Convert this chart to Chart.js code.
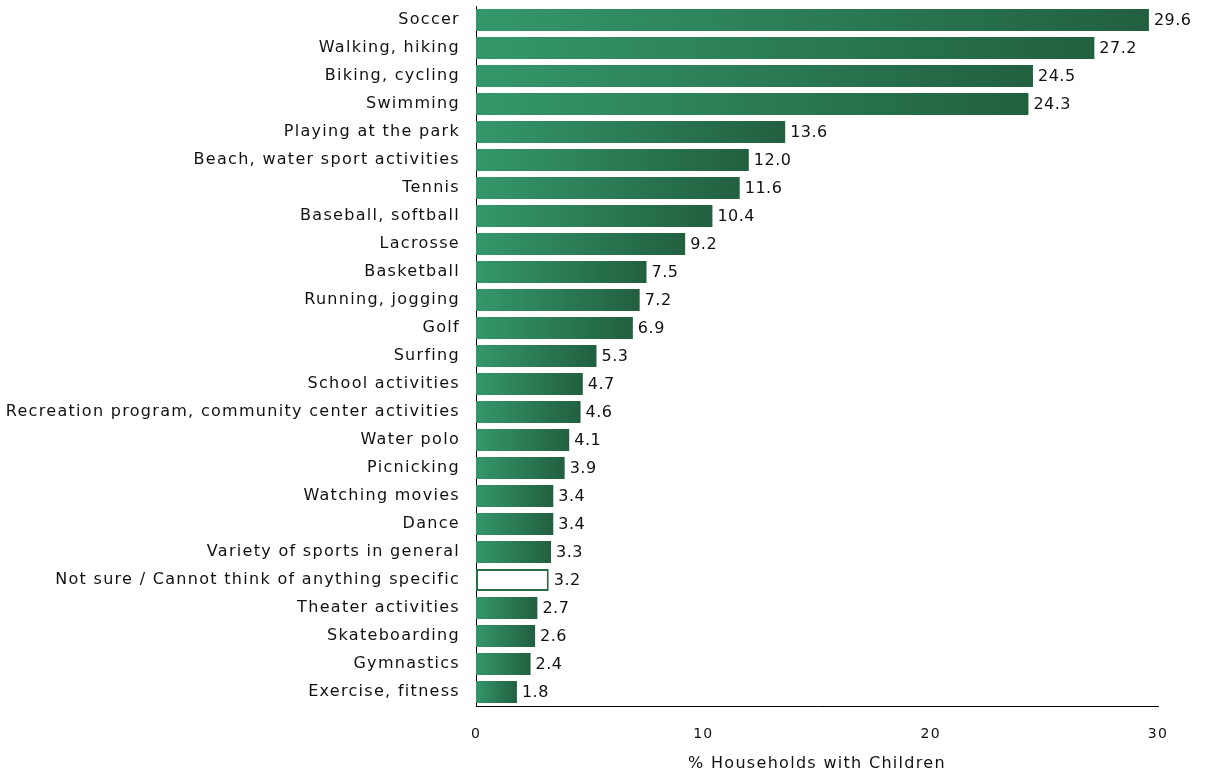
<!DOCTYPE html>
<html>
<head>
<meta charset="utf-8">
<title>% Households with Children</title>
<script src="https://cdn.jsdelivr.net/npm/chart.js@4.4.1/dist/chart.umd.min.js"></script>
<style>
  body { margin: 0; background: #fff; }
  #wrap { width: 1207px; height: 773px; }
</style>
</head>
<body>
<div id="wrap"><canvas id="myChart" width="1207" height="773"></canvas></div>
<script>
'use strict';

// ******** DATA **********

let activities = ['Soccer', 'Walking, hiking', 'Biking, cycling', 'Swimming', 'Playing at the park', 'Beach, water sport activities', 'Tennis', 'Baseball, softball', 'Lacrosse', 'Basketball', 'Running, jogging', 'Golf', 'Surfing', 'School activities', 'Recreation program, community center activities', 'Water polo', 'Picnicking', 'Watching movies', 'Dance', 'Variety of sports in general', 'Not sure / Cannot think of anything specific', 'Theater activities', 'Skateboarding', 'Gymnastics', 'Exercise, fitness'];
let percentHouseholds = [29.6, 27.2, 24.5, 24.3, 13.6, 12.0, 11.6, 10.4, 9.2, 7.5, 7.2, 6.9, 5.3, 4.7, 4.6, 4.1, 3.9, 3.4, 3.4, 3.3, 3.2, 2.7, 2.6, 2.4, 1.8];
let xTicks = [0, 10, 20, 30];
let blankCategory = 'Not sure / Cannot think of anything specific';

// ********** COLORS ***********

let lightGreen = '#34976a';
let darkGreen = '#22603f';

let ctx = document.getElementById('myChart').getContext('2d');

function barFill(context) {
  let chart = context.chart;
  if (activities[context.dataIndex] === blankCategory) {
    return '#ffffff';
  }
  if (!chart.chartArea) {
    return lightGreen;
  }
  let x0 = chart.scales.x.getPixelForValue(0);
  let x1 = chart.scales.x.getPixelForValue(context.raw);
  let grad = chart.ctx.createLinearGradient(x0, 0, x1, 0);
  grad.addColorStop(0, lightGreen);
  grad.addColorStop(1, darkGreen);
  return grad;
}

// ********** PLUGINS ***********

// wider letter spacing for the category labels only
let spacingPlugin = {
  id: 'spacing',
  beforeDraw(chart) {
    chart.ctx.letterSpacing = '1.3px';
  },
  beforeDatasetsDraw(chart) {
    chart.ctx.letterSpacing = '0px';
  }
};

let valueLabels = {
  id: 'valueLabels',
  afterDatasetsDraw(chart) {
    let c = chart.ctx;
    let meta = chart.getDatasetMeta(0);
    c.save();
    c.letterSpacing = '0.5px';
    c.font = '16px "DejaVu Sans"';
    c.fillStyle = '#111';
    c.textAlign = 'left';
    c.textBaseline = 'middle';
    meta.data.forEach(function (bar, i) {
      c.fillText(percentHouseholds[i].toFixed(1), bar.x + 5, bar.y + 1);
    });
    c.restore();
    c.letterSpacing = '0px';
  }
};

// ********** CHART ***********

new Chart(ctx, {
  type: 'bar',
  data: {
    labels: activities,
    datasets: [{
      data: percentHouseholds,
      backgroundColor: barFill,
      borderColor: function (context) {
        return activities[context.dataIndex] === blankCategory ? '#2a6b48' : 'rgba(0,0,0,0)';
      },
      borderWidth: function (context) {
        return activities[context.dataIndex] === blankCategory ? 2 : 0;
      },
      borderSkipped: false,
      categoryPercentage: 1,
      barPercentage: 0.79
    }]
  },
  options: {
    indexAxis: 'y',
    responsive: false,
    animation: false,
    layout: { padding: { top: 6, right: 49, left: 0, bottom: 0 } },
    plugins: {
      legend: { display: false },
      tooltip: { enabled: false }
    },
    scales: {
      x: {
        min: 0,
        max: 30,
        z: 1,
        afterBuildTicks(scale) {
          scale.ticks = xTicks.map(function (v) { return { value: v }; });
        },
        afterFit(scale) {
          scale.height = 67;
          scale.paddingLeft = 0;
        },
        grid: { display: false },
        border: { display: true, color: '#000', width: 1 },
        ticks: {
          padding: 12,
          color: '#111',
          font: { family: '"DejaVu Sans"', size: 14 }
        },
        title: {
          display: true,
          text: '% Households with Children',
          color: '#111',
          padding: { top: 4, bottom: 0 },
          font: { family: '"DejaVu Sans"', size: 16 }
        }
      },
      y: {
        afterFit(scale) {
          scale.width = 476;
          scale.paddingTop = 0;
          scale.paddingBottom = 0;
        },
        grid: { display: false },
        border: { display: true, color: '#000', width: 1 },
        ticks: {
          padding: 8,
          color: '#111',
          autoSkip: false,
          font: { family: '"DejaVu Sans"', size: 16 }
        }
      }
    }
  },
  plugins: [spacingPlugin, valueLabels]
});
</script>
</body>
</html>
